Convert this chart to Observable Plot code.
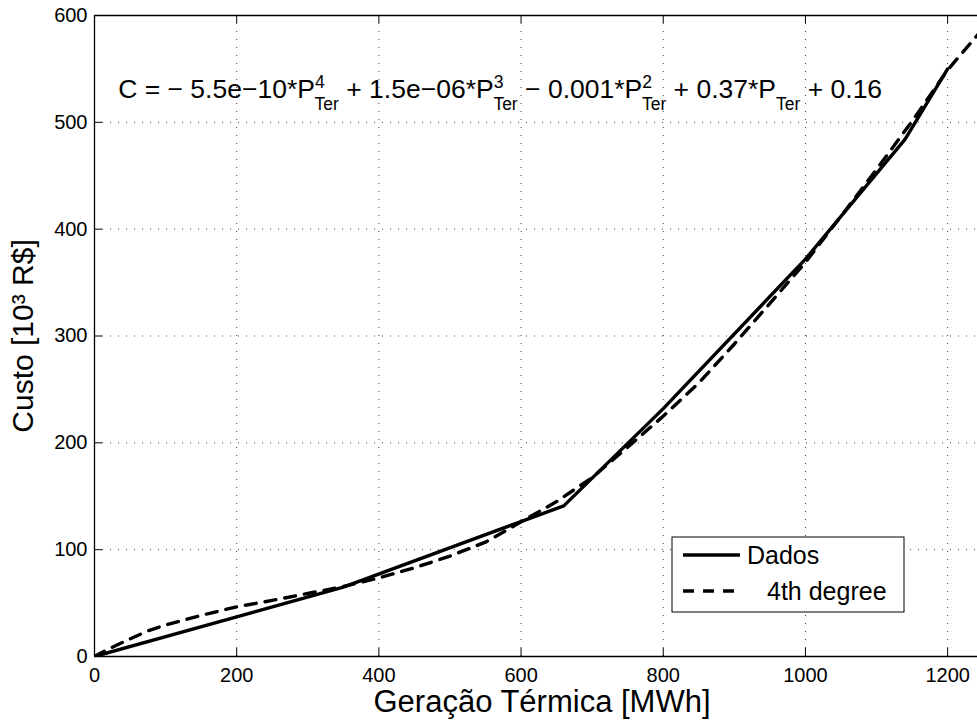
<!DOCTYPE html>
<html><head><meta charset="utf-8">
<script src="https://cdn.jsdelivr.net/npm/d3@7"></script>
<script src="https://cdn.jsdelivr.net/npm/@observablehq/plot@0.6"></script>
<style>body{margin:0;background:#fff} svg{display:block}</style>
</head><body><div id="chart"></div>
<script>
// ---- data ----
const dadosX = [0, 350, 660, 800, 1000, 1140, 1200];
const dadosY = [0, 65, 141, 232, 372, 484, 550];
const fitX = [0, 25, 50, 75, 100, 150, 200, 250, 300, 350, 400, 450, 500, 550, 600, 650, 700, 750, 800, 850, 900, 950, 1000, 1050, 1100, 1150, 1200, 1250];
const fitY = [0.2, 8.7, 16.5, 24, 29.5, 38.5, 46.5, 52.5, 59, 65.5, 73.5, 83, 94, 107, 126, 145, 167.5, 196, 225, 256, 292.5, 330.5, 369, 412, 456, 501, 549, 588];
const xTicks = [0, 200, 400, 600, 800, 1000, 1200];
const yTicks = [0, 100, 200, 300, 400, 500, 600];
const seriesNames = ["Dados", "4th degree"];
const xLabel = "Geração Térmica [MWh]";
const yLabel = "Custo [10³ R$]";
const eqParts = [
  {t: "C = − 5.5e−10*P"}, {sup: "4", sub: "Ter"},
  {t: " + 1.5e−06*P"}, {sup: "3", sub: "Ter"},
  {t: " − 0.001*P"}, {sup: "2", sub: "Ter"},
  {t: " + 0.37*P"}, {sub: "Ter"},
  {t: " + 0.16"}
];
const eqAnchor = {x: 34, y: 522};

const dados = dadosX.map((x, i) => ({x, y: dadosY[i]}));
const fit = fitX.map((x, i) => ({x, y: fitY[i]}));

const FONT = "Liberation Sans, Arial, Helvetica, sans-serif";
const DASH = "11,9";
const LW = 3.4;

function equationMark(index, scales) {
  const g = d3.create("svg:g");
  const t = g.append("text")
    .attr("x", scales.x(eqAnchor.x)).attr("y", scales.y(eqAnchor.y))
    .attr("text-anchor", "start")
    .attr("font-family", FONT).attr("font-size", 26.5).attr("fill", "black");
  const SUP = 10, SUB = 12, FS = 17.5, SW = 10;
  let level = 0;
  for (const p of eqParts) {
    if (p.t) {
      t.append("tspan").attr("dy", -level).text(p.t);
      level = 0;
    } else if (p.sup) {
      t.append("tspan").attr("font-size", FS).attr("dy", -SUP - level).text(p.sup);
      t.append("tspan").attr("font-size", FS).attr("dx", -SW).attr("dy", SUP + SUB).text(p.sub);
      level = SUB;
    } else {
      t.append("tspan").attr("font-size", FS).attr("dy", SUB - level).text(p.sub);
      level = SUB;
    }
  }
  return g.node();
}

function legendMark(index, scales, values, dims) {
  const g = d3.create("svg:g").attr("font-family", FONT).attr("font-size", 25)
    .attr("text-anchor", "start");
  const x0 = 672, y0 = dims.height - dims.marginBottom - 119, w = 232, h = 75;
  g.append("rect").attr("x", x0).attr("y", y0).attr("width", w).attr("height", h)
    .attr("fill", "white").attr("stroke", "black").attr("stroke-width", 1);
  const rows = [
    {name: seriesNames[0], dash: null, ty: 18, tx: 75},
    {name: seriesNames[1], dash: DASH, ty: 54, tx: 95}
  ];
  for (const r of rows) {
    g.append("line").attr("x1", x0 + 11).attr("x2", x0 + 68)
      .attr("y1", y0 + r.ty).attr("y2", y0 + r.ty)
      .attr("stroke", "black").attr("stroke-width", LW)
      .attr("stroke-dasharray", r.dash);
    g.append("text").attr("x", x0 + r.tx).attr("y", y0 + r.ty).attr("dy", "0.35em")
      .attr("text-anchor", "start").text(r.name);
  }
  return g.node();
}

const W = 977, H = 720, ML = 94, MR = 0, MT = 15, MB = 64;
const frameW = W - ML - MR, frameH = H - MT - MB, TICK = 8;

const chart = Plot.plot({
  width: W,
  height: H,
  marginLeft: ML,
  marginRight: MR,
  marginTop: MT,
  marginBottom: MB,
  style: {fontFamily: FONT, background: "white", color: "black"},
  x: {domain: [0, 1242], ticks: xTicks},
  y: {domain: [0, 600], ticks: yTicks},
  marks: [
    Plot.gridX(xTicks, {stroke: "#000", strokeOpacity: 0.75, strokeDasharray: "1,7"}),
    Plot.gridY(yTicks, {stroke: "#000", strokeOpacity: 0.75, strokeDasharray: "1,7"}),
    Plot.tickX(xTicks, {x: d => d, insetTop: frameH - TICK, stroke: "black"}),
    Plot.tickX(xTicks, {x: d => d, insetBottom: frameH - TICK, stroke: "black"}),
    Plot.tickY(yTicks, {y: d => d, insetRight: frameW - TICK, stroke: "black"}),
    Plot.axisX({ticks: xTicks, tickSize: 0, tickPadding: 11, fontSize: 20, label: null, tickFormat: d => String(d)}),
    Plot.axisY({ticks: yTicks, tickSize: 0, tickPadding: 7, fontSize: 20, label: null, tickFormat: d => String(d)}),
    Plot.ruleX([0], {stroke: "black", strokeWidth: 1.3}),
    Plot.ruleY([0, 600], {stroke: "black", strokeWidth: 1.3}),
    Plot.line(fit, {x: "x", y: "y", stroke: "black", strokeWidth: LW, strokeDasharray: DASH, clip: true}),
    Plot.line(dados, {x: "x", y: "y", stroke: "black", strokeWidth: LW, clip: true}),
    Plot.text([xLabel], {frameAnchor: "bottom", text: d => d, lineAnchor: "middle", textAnchor: "middle", dy: 46, dx: 6, fontSize: 31}),
    Plot.text([yLabel], {frameAnchor: "left", text: d => d, lineAnchor: "middle", textAnchor: "middle", rotate: -90, dx: -71, fontSize: 30}),
    equationMark,
    legendMark
  ]
});
document.getElementById("chart").append(chart);
</script>
</body></html>
